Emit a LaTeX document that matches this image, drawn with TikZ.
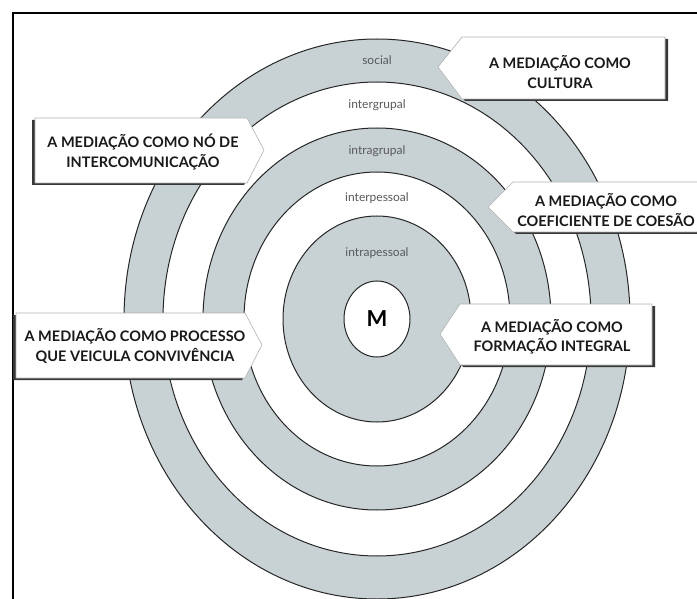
\documentclass[tikz,border=0pt]{standalone}
\usepackage{fontspec}
\setmainfont{Lato}
\usetikzlibrary{shapes.geometric}

\definecolor{bandgray}{RGB}{200,210,213}
\definecolor{shadowgray}{RGB}{55,55,55}

\tikzset{
  band/.style={draw=black!85, line width=1pt},
  ringlabel/.style={font=\fontsize{12}{14}\selectfont, text=black!65},
  calloutbox/.style={fill=white, draw=black!30, line width=0.6pt},
  calloutshadow/.style={fill=shadowgray},
  callouttext/.style={align=center, font=\bfseries\fontsize{14.5}{19.5}\selectfont, text=black!90, inner sep=0pt},
}

\begin{document}
\begin{tikzpicture}[x=1pt, y=-1pt]
    \useasboundingbox (0,0) rectangle (697,599);
    \clip (0,0) rectangle (697,599);

    % Define the centre of the rings
    \coordinate (m) at (377,319);

    % Draw the rings, outermost first
    \foreach \rx/\ry/\col in {253/280/bandgray, 214/237/white, 174/191/bandgray, 133/147/white, 94/103/bandgray}
        \draw[band, fill=\col] (m) ellipse [x radius=\rx, y radius=\ry];

    % Centre circle
    \node[ellipse, draw=black!85, line width=1pt, fill=white, minimum width=66pt, minimum height=76pt,
          inner sep=0pt, font=\bfseries\fontsize{22}{22}\selectfont] (M) at (m) {M};

    % Ring labels
    \node[ringlabel] (social) at (377,60) {social};
    \node[ringlabel] (intergrupal) at (377,105) {intergrupal};
    \node[ringlabel] (intragrupal) at (377,151) {intragrupal};
    \node[ringlabel] (interpessoal) at (377,198) {interpessoal};
    \node[ringlabel] (intrapessoal) at (377,253) {intrapessoal};

    % Frame
    \draw[line width=2.5pt] (697,13) -- (13,13) -- (13,599);

    % Draw callout boxes with shadow
    \foreach \tx/\ty/\cx/\ox/\yt/\yb/\sx in {438/67/462/665/37/99/3, 488/207/513/705/182/232/3,
                                           440/334/460/652/304/365/3, 264/150/247/35/118/183/-3,
                                           262/345/245/16/313/378/-3}
    {
        \fill[calloutshadow, shift={(\sx,2)}] (\tx,\ty) -- (\cx,\yt) -- (\ox,\yt) -- (\ox,\yb) -- (\cx,\yb) -- cycle;
        \draw[calloutbox] (\tx,\ty) -- (\cx,\yt) -- (\ox,\yt) -- (\ox,\yb) -- (\cx,\yb) -- cycle;
    }

    % Callout texts
    \node[callouttext] (cultura) at (560,72) {A MEDIAÇÃO COMO\\CULTURA};
    \node[callouttext] (no) at (143,152) {A MEDIAÇÃO COMO NÓ DE\\INTERCOMUNICAÇÃO};
    \node[callouttext] (coesao) at (606,210) {A MEDIAÇÃO COMO\\COEFICIENTE DE COESÃO};
    \node[callouttext] (formacao) at (552,337) {A MEDIAÇÃO COMO\\FORMAÇÃO INTEGRAL};
    \node[callouttext] (convivencia) at (135,346) {A MEDIAÇÃO COMO PROCESSO\\QUE VEICULA CONVIVÊNCIA};
\end{tikzpicture}
\end{document}
